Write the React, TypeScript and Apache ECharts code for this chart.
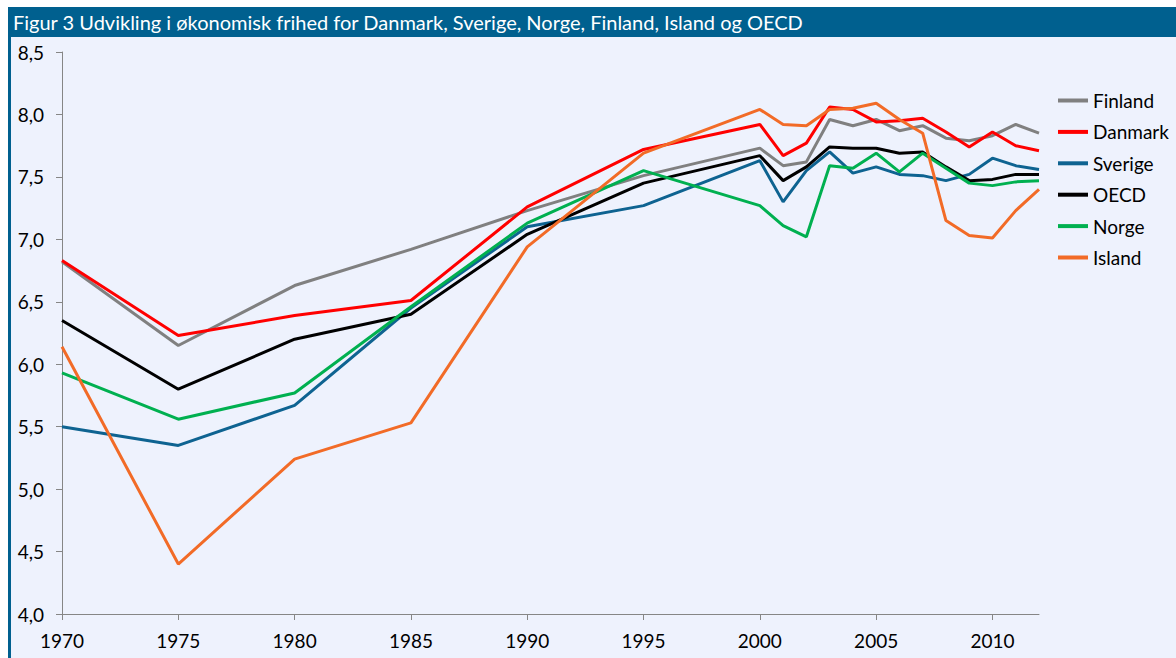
import React, { useEffect, useRef } from "react";
import * as echarts from "echarts";

const titleText = "Figur 3 Udvikling i økonomisk frihed for Danmark, Sverige, Norge, Finland, Island og OECD";
const years = [1970, 1975, 1980, 1985, 1990, 1995, 2000, 2001, 2002, 2003, 2004, 2005, 2006, 2007, 2008, 2009, 2010, 2011, 2012];
const finland = [6.82, 6.15, 6.63, 6.92, 7.23, 7.51, 7.73, 7.59, 7.62, 7.96, 7.91, 7.96, 7.87, 7.91, 7.81, 7.79, 7.83, 7.92, 7.85];
const danmark = [6.83, 6.23, 6.39, 6.51, 7.26, 7.72, 7.92, 7.67, 7.77, 8.06, 8.04, 7.94, 7.95, 7.97, 7.86, 7.74, 7.86, 7.75, 7.71];
const sverige = [5.5, 5.35, 5.67, 6.45, 7.1, 7.27, 7.63, 7.3, 7.55, 7.7, 7.53, 7.58, 7.52, 7.51, 7.47, 7.52, 7.65, 7.59, 7.56];
const oecd = [6.35, 5.8, 6.2, 6.4, 7.04, 7.45, 7.67, 7.47, 7.58, 7.74, 7.73, 7.73, 7.69, 7.7, 7.58, 7.47, 7.48, 7.52, 7.52];
const norge = [5.93, 5.56, 5.77, 6.46, 7.13, 7.55, 7.27, 7.11, 7.02, 7.59, 7.57, 7.69, 7.54, 7.69, 7.57, 7.45, 7.43, 7.46, 7.47];
const island = [6.14, 4.4, 5.24, 5.53, 6.94, 7.69, 8.04, 7.92, 7.91, 8.04, 8.05, 8.09, 7.96, 7.85, 7.15, 7.03, 7.01, 7.23, 7.4];

const seriesDefs = [
  { name: "Finland", values: finland, color: "#808080" },
  { name: "Danmark", values: danmark, color: "#FF0000" },
  { name: "Sverige", values: sverige, color: "#0E6391" },
  { name: "OECD", values: oecd, color: "#000000" },
  { name: "Norge", values: norge, color: "#00B050" },
  { name: "Island", values: island, color: "#F26B27" },
];

const FONT = "Lato";

export default function App() {
  const ref = useRef<HTMLDivElement>(null);
  useEffect(() => {
    if (!ref.current) return;
    const chart = echarts.init(ref.current, null, { renderer: "svg" });
    chart.setOption({
      animation: false,
      backgroundColor: "#EEF2FD",
      textStyle: { fontFamily: FONT },
      graphic: [
        { type: "rect", left: 0, top: 0, shape: { width: 1168, height: 30 }, style: { fill: "#00608F" }, z: 10 },
        { type: "rect", left: 0, top: 0, shape: { width: 3, height: 651 }, style: { fill: "#00608F" }, z: 10 },
        {
          type: "text",
          left: 5,
          top: 5,
          z: 11,
          style: { text: titleText, fill: "#FFFFFF", font: `20px ${FONT}` },
        },
      ],
      legend: {
        orient: "vertical",
        left: 1045,
        top: 79,
        itemWidth: 30,
        itemHeight: 4,
        itemGap: 12.4,
        icon: "rect",
        textStyle: { fontFamily: FONT, fontSize: 19, color: "#000" },
        data: seriesDefs.map((s) => s.name),
      },
      grid: { left: 54, right: 137, top: 45, bottom: 44, containLabel: false },
      xAxis: {
        type: "value",
        min: 1970,
        max: 2012,
        interval: 5,
        axisLine: { lineStyle: { color: "#868686", width: 1 } },
        axisTick: { show: true, length: 6, lineStyle: { color: "#868686" } },
        axisLabel: {
          color: "#000",
          fontSize: 19,
          fontFamily: FONT,
          margin: 17,
          showMaxLabel: false,
          formatter: (v: number) => String(v),
        },
        splitLine: { show: false },
      },
      yAxis: {
        type: "value",
        min: 4,
        max: 8.5,
        interval: 0.5,
        axisLine: { show: true, lineStyle: { color: "#868686", width: 1 } },
        axisTick: { show: true, length: 6, lineStyle: { color: "#868686" } },
        axisLabel: {
          color: "#000",
          fontSize: 19,
          fontFamily: FONT,
          margin: 18,
          formatter: (v: number) => v.toFixed(1).replace(".", ","),
        },
        splitLine: { show: false },
      },
      series: seriesDefs.map((s) => ({
        name: s.name,
        type: "line",
        data: years.map((y, i) => [y, s.values[i]]),
        showSymbol: false,
        symbol: "none",
        color: s.color,
        lineStyle: { width: 3, color: s.color },
      })),
    });
    return () => chart.dispose();
  }, []);
  return (
    <div style={{ position: "fixed", left: 0, top: 0, width: 1176, height: 658, background: "#FFFFFF", overflow: "hidden" }}>
      <div ref={ref} style={{ position: "absolute", left: 8, top: 7, width: 1168, height: 651 }} />
    </div>
  );
}
